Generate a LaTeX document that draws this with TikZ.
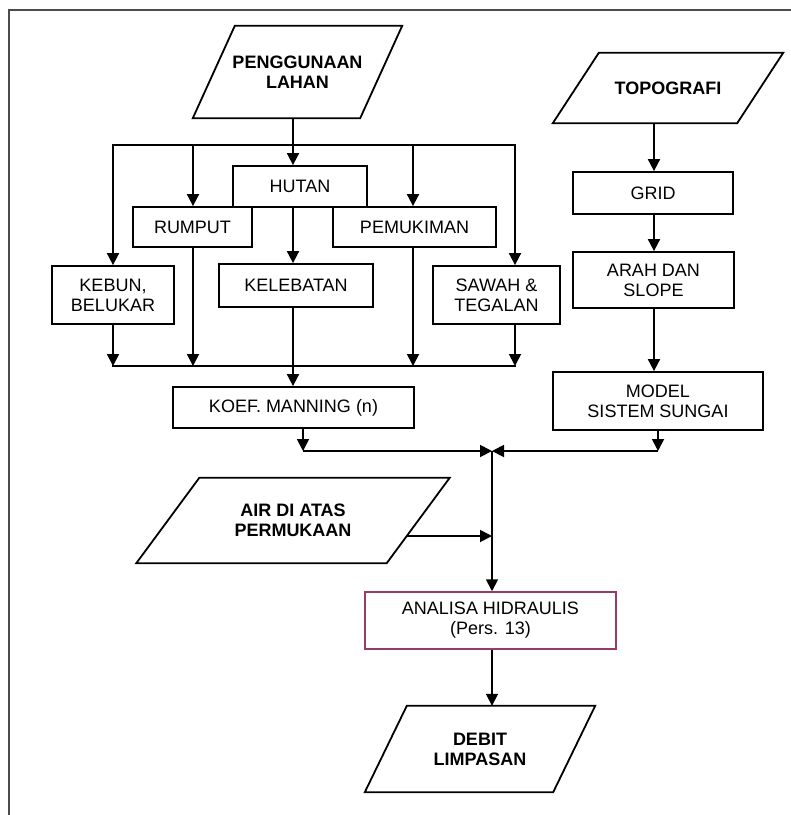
\documentclass[tikz,border=0pt]{standalone}
\usepackage{fontspec}
\setmainfont{Liberation Sans}
\usetikzlibrary{arrows.meta,calc}
\definecolor{framegray}{gray}{0.3}
\definecolor{hydro}{RGB}{150,60,100}
% parallelogram drawn around a named node: #1 node name, #2 half slant
\newcommand\drawpara[2]{%
  \draw[line] ([xshift=#2]#1.north west) -- ([xshift=#2]#1.north east)
    -- ([xshift=-#2]#1.south east) -- ([xshift=-#2]#1.south west) -- cycle;}
\begin{document}
\begin{tikzpicture}[x=1pt,y=-1pt,
  line/.style={line width=1.8pt, black, line join=miter},
  bus/.style={line, line cap=rect},
  arr/.style={line, -{Triangle[width=12pt,length=12pt]}},
  box/.style={draw, line width=1.8pt, inner sep=0pt, align=center,
    font=\fontsize{18}{20}\selectfont},
  iobox/.style={inner sep=0pt, align=center,
    font=\bfseries\fontsize{18}{20}\selectfont},
]
\useasboundingbox (0,0) rectangle (791,815);

% page frame
\draw[framegray, line width=1.6pt] (791,10) -- (9,10) -- (9,815);

% inputs / output
\node[iobox, minimum width=167pt, minimum height=92pt] (lahan) at (297.5,72) {PENGGUNAAN\\LAHAN};
\drawpara{lahan}{21pt}
\node[iobox, minimum width=184pt, minimum height=70pt] (topo) at (668,88) {TOPOGRAFI};
\drawpara{topo}{23pt}
\node[iobox, minimum width=250pt, minimum height=85pt] (air) at (293,520.5) {AIR DI ATAS\\PERMUKAAN};
\drawpara{air}{31.5pt}
\node[iobox, minimum width=188pt, minimum height=86pt] (debit) at (480,749) {DEBIT\\LIMPASAN};
\drawpara{debit}{21pt}

% land-use classes
\node[box, minimum width=134pt, minimum height=41pt] (hutan) at (300,186.5) {HUTAN};
\node[box, minimum width=119pt, minimum height=40pt] (rumput) at (192.5,227) {RUMPUT};
\node[box, minimum width=163pt, minimum height=40pt] (pemukiman) at (414.5,227) {PEMUKIMAN};
\node[box, minimum width=122pt, minimum height=58pt] (kebun) at (113,295) {KEBUN,\\BELUKAR};
\node[box, minimum width=154pt, minimum height=43pt] (kelebatan) at (296,285.5) {KELEBATAN};
\node[box, minimum width=127pt, minimum height=58pt] (sawah) at (496.5,295) {SAWAH \&\\TEGALAN};
\node[box, minimum width=241pt, minimum height=41pt] (koef) at (293.5,407.5) {KOEF. MANNING (n)};

% topography chain
\node[box, minimum width=160pt, minimum height=42pt] (grid) at (653,193) {GRID};
\node[box, minimum width=161pt, minimum height=56pt] (arah) at (653.5,280) {ARAH DAN\\SLOPE};
\node[box, minimum width=210pt, minimum height=58pt] (model) at (658,401) {MODEL\\SISTEM SUNGAI};

% hydraulic analysis
\node[box, draw=hydro, line width=1.5pt, minimum width=251pt, minimum height=57pt] (analisa) at (490.5,620.5) {ANALISA HIDRAULIS\\(Pers. 13)};

% routing points
\coordinate (col) at (293,0);
\coordinate (rcol) at (193,0);
\coordinate (pcol) at (413,0);
\coordinate (tcol) at (654,0);
\coordinate (b1l) at (113,145);
\coordinate (b1r) at (515,145);
\coordinate (b2l) at (113,366);
\coordinate (b2r) at (515,366);
\coordinate (kc) at (303,451);
\coordinate (mc) at (658,451);
\coordinate (j) at (492,451);
\coordinate (airout) at ([shift={(-11.3,15.5)}]air.east);

% distribution to the land-use classes
\draw[bus] (b1l) -- (b1r);
\draw[arr] (lahan.south -| col) -- (hutan.north -| col);
\draw[arr] (b1l) -- (kebun.north -| b1l);
\draw[arr] (b1l -| rcol) -- (rumput.north -| rcol);
\draw[arr] (b1l -| pcol) -- (pemukiman.north -| pcol);
\draw[arr] (b1r) -- (sawah.north -| b1r);
\draw[arr] (hutan.south -| col) -- (kelebatan.north -| col);

% collection into the Manning coefficient
\draw[bus] (b2l) -- (b2r);
\draw[arr] (kebun.south -| b2l) -- (b2l);
\draw[arr] (rumput.south -| rcol) -- (b2l -| rcol);
\draw[arr] (pemukiman.south -| pcol) -- (b2l -| pcol);
\draw[arr] (sawah.south -| b2r) -- (b2r);
\draw[arr] (kelebatan.south -| col) -- (koef.north -| col);

% topography chain
\draw[arr] (topo.south -| tcol) -- (grid.north -| tcol);
\draw[arr] (grid.south -| tcol) -- (arah.north -| tcol);
\draw[arr] (arah.south -| tcol) -- (model.north -| tcol);

% merging into the analysis
\draw[arr] (koef.south -| kc) -- (kc);
\draw[arr] (kc) -- (j);
\draw[arr] (model.south -| mc) -- (mc);
\draw[arr] (mc) -- (j);
\draw[arr] (j) -- (analisa.north -| j);
\draw[arr] (airout) -- (airout -| j);
\draw[arr] (analisa.south -| j) -- (debit.north -| j);
\end{tikzpicture}
\end{document}
